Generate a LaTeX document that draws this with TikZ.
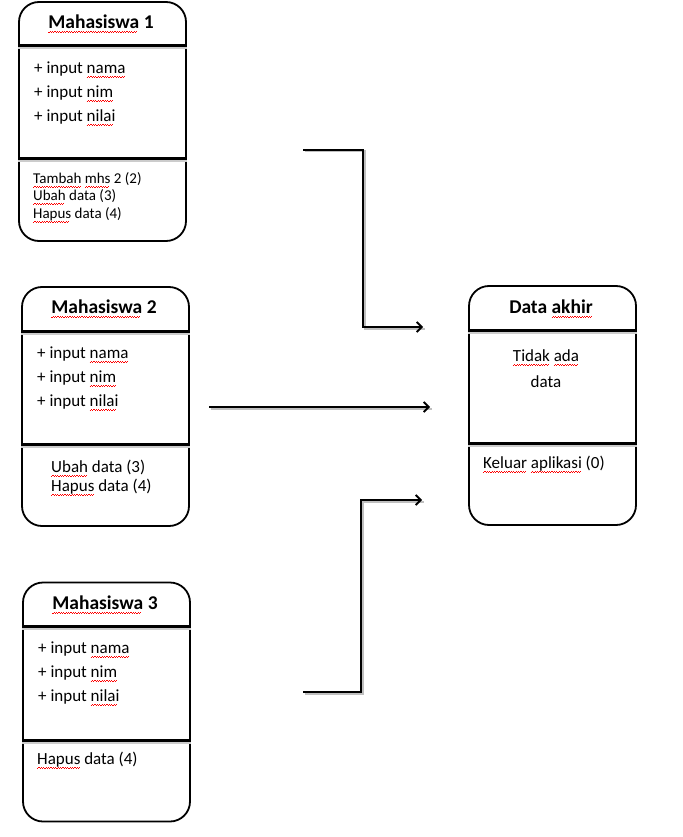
\documentclass[tikz,border=0pt]{standalone}
\usepackage{fontspec}
\setmainfont{Carlito}
\usetikzlibrary{arrows.meta}
\newcommand\salah[1]{\setbox0\hbox{#1}\rlap{\color{red}\leaders\hbox{\rule[-4.2pt]{1.2pt}{0.8pt}\rule[-3.4pt]{1.2pt}{0.8pt}}\hskip\wd0}\box0\relax}

\begin{document}
\begin{tikzpicture}[x=1pt,y=-1pt]
        \tikzstyle{kelas}=[draw=black,line width=1.8pt,rounded corners=20pt,minimum width=167pt,minimum height=239pt,inner sep=0pt]
        \tikzstyle{judul}=[font=\fontsize{19.5}{22}\selectfont\bfseries]
        \tikzstyle{atr}=[anchor=west,inner sep=0pt,font=\fontsize{17}{20}\selectfont]
        \tikzstyle{met}=[anchor=west,inner sep=0pt,font=\fontsize{15}{18}\selectfont]
        \tikzstyle{garis}=[line width=3pt,preaction={draw=black!20,line width=3pt,transform canvas={shift={(0pt,-2pt)}}}]
        \tikzstyle{panah}=[line width=1.8pt,-{Straight Barb[length=5pt,width=10pt]},preaction={draw=black!25,-,line width=2pt,transform canvas={shift={(1.5pt,-1.5pt)}}}]
        \useasboundingbox (0,0) rectangle (682,837);
       \begin{scope}
         % Mahasiswa 1
         \node [kelas] (m1) at (102.5,121.5) {};
         \draw[garis] (m1.west |- 0,46) -- (m1.east |- 0,46);
         \draw[garis] (m1.west |- 0,159) -- (m1.east |- 0,159);
         \node [judul] (m1j) at (101,24) {\salah{Mahasiswa} 1};
         \node [atr] (m1a1) at (34,70) {+ input \salah{nama}};
         \node [atr] (m1a2) at (34,94) {+ input \salah{nim}};
         \node [atr] (m1a3) at (34,118) {+ input \salah{nilai}};
         \node [met] (m1b1) at (33,180) {\salah{Tambah} \salah{mhs} 2 (2)};
         \node [met] (m1b2) at (33,197) {\salah{Ubah} data (3)};
         \node [met] (m1b3) at (33,215) {\salah{Hapus} data (4)};
         % Mahasiswa 2
         \node [kelas] (m2) at (105.5,406.5) {};
         \draw[garis] (m2.west |- 0,331) -- (m2.east |- 0,331);
         \draw[garis] (m2.west |- 0,444) -- (m2.east |- 0,444);
         \node [judul] (m2j) at (104,309) {\salah{Mahasiswa} 2};
         \node [atr] (m2a1) at (37,355) {+ input \salah{nama}};
         \node [atr] (m2a2) at (37,379) {+ input \salah{nim}};
         \node [atr] (m2a3) at (37,403) {+ input \salah{nilai}};
         \node [atr] (m2b1) at (51,468) {\salah{Ubah} data (3)};
         \node [atr] (m2b2) at (51,487) {\salah{Hapus} data (4)};
         % Mahasiswa 3
         \node [kelas] (m3) at (106.5,702) {};
         \draw[garis] (m3.west |- 0,626) -- (m3.east |- 0,626);
         \draw[garis] (m3.west |- 0,740) -- (m3.east |- 0,740);
         \node [judul] (m3j) at (105,605) {\salah{Mahasiswa} 3};
         \node [atr] (m3a1) at (38,650) {+ input \salah{nama}};
         \node [atr] (m3a2) at (38,674) {+ input \salah{nim}};
         \node [atr] (m3a3) at (38,698) {+ input \salah{nilai}};
         \node [atr] (m3b1) at (37,760) {\salah{Hapus} data (4)};
         % Data akhir
         \node [kelas] (da) at (552.5,405.5) {};
         \draw[garis] (da.west |- 0,330) -- (da.east |- 0,330);
         \draw[garis] (da.west |- 0,443) -- (da.east |- 0,443);
         \node [judul] (daj) at (551,309) {Data \salah{akhir}};
         \node [atr,anchor=center] (dai1) at (546,358) {\salah{Tidak} \salah{ada}};
         \node [atr,anchor=center] (dai2) at (546,382) {data};
         \node [atr] (dab1) at (483,464) {\salah{Keluar} \salah{aplikasi} (0)};
         % panah
         \coordinate (p1) at (303,150);
         \coordinate (b1) at (363,327);
         \coordinate (q1) at (423,327);
         \coordinate (p2) at (209,407);
         \coordinate (q2) at (430,407);
         \coordinate (p3) at (303,692);
         \coordinate (b3) at (361,500);
         \coordinate (q3) at (422,500);
         \draw[panah] (p1) -| (b1) -- (q1);
         \draw[panah] (p2) -- (q2);
         \draw[panah] (p3) -| (b3) -- (q3);
        \end{scope}
      \end{tikzpicture}
\end{document}
